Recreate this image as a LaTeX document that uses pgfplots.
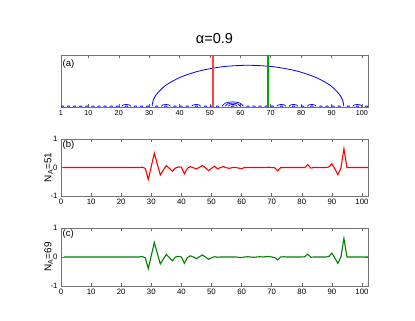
\documentclass[border=0pt]{standalone}
\usepackage{fontspec}
\setmainfont{Liberation Sans}
\usepackage{pgfplots}
\pgfplotsset{compat=1.18}

\definecolor{mred}{RGB}{255,0,0}
\definecolor{mgreen}{RGB}{0,128,0}
\definecolor{mblue}{RGB}{0,0,255}

\pgfplotsset{
  panel/.style={
    scale only axis,
    anchor=south west,
    width=307pt,
    axis line style={black!55, line width=0.7pt},
    tick style={black!60, line width=0.5pt},
    major tick length=3pt,
    tick label style={font=\fontsize{7.8}{9}\selectfont},
    /pgf/number format/assume math mode=true,
  },
}
\tikzset{lbl/.style={anchor=north west, inner sep=1.5pt, font=\fontsize{9.5}{11}\selectfont}}

\begin{document}
\begin{tikzpicture}
\fill[white] (0pt,0pt) rectangle (415pt,321pt);

% (a) arc diagram
\begin{axis}[panel,
  at={(61pt,214pt)}, height=52pt,
  xmin=1, xmax=102, ymin=-0.012, ymax=1,
  xtick={1,10,20,30,40,50,60,70,80,90,100},
  ytick=\empty,
  tick label style={font=\fontsize{7.2}{9}\selectfont},
  title={α=0.9},
  title style={font=\fontsize{14.5}{16}\selectfont, yshift=2pt},
]
\addplot[mblue, line width=0.9pt, unbounded coords=jump] coordinates {
 (1,0)(1.5,0.008)(2,0)(2,nan) (3,0)(3.5,0.008)(4,0)(4,nan)
 (5,0)(5.5,0.008)(6,0)(6,nan) (7,0)(7.5,0.008)(8,0)(8,nan)
 (9,0)(9.5,0.008)(10,0)(10,nan) (11,0)(11.5,0.008)(12,0)(12,nan)
 (13,0)(13.5,0.008)(14,0)(14,nan) (15,0)(15.5,0.008)(16,0)(16,nan)
 (17,0)(17.5,0.008)(18,0)(18,nan) (19,0)(19.5,0.008)(20,0)(20,nan)
 (22,0)(22.5,0.008)(23,0)(23,nan) (25,0)(25.5,0.008)(26,0)(26,nan)
 (27,0)(27.5,0.008)(28,0)(28,nan) (29,0)(29.5,0.008)(30,0)(30,nan)
 (32,0)(32.5,0.008)(33,0)(33,nan) (35,0)(35.5,0.008)(36,0)(36,nan)
 (38,0)(38.5,0.008)(39,0)(39,nan) (40,0)(40.5,0.008)(41,0)(41,nan)
 (42,0)(42.5,0.008)(43,0)(43,nan) (45,0)(45.5,0.008)(46,0)(46,nan)
 (48,0)(48.5,0.008)(49,0)(49,nan) (50,0)(50.5,0.008)(51,0)(51,nan)
 (52,0)(52.5,0.008)(53,0)(53,nan) (57,0)(57.5,0.008)(58,0)(58,nan)
 (62,0)(62.5,0.008)(63,0)(63,nan) (64,0)(64.5,0.008)(65,0)(65,nan)
 (66,0)(66.5,0.008)(67,0)(67,nan) (68,0)(68.5,0.008)(69,0)(69,nan)
 (70,0)(70.5,0.008)(71,0)(71,nan) (73,0)(73.5,0.008)(74,0)(74,nan)
 (77,0)(77.5,0.008)(78,0)(78,nan) (80,0)(80.5,0.008)(81,0)(81,nan)
 (83,0)(83.5,0.008)(84,0)(84,nan) (86,0)(86.5,0.008)(87,0)(87,nan)
 (88,0)(88.5,0.008)(89,0)(89,nan) (90,0)(90.5,0.008)(91,0)(91,nan)
 (92,0)(92.5,0.008)(93,0)(93,nan) (95,0)(95.5,0.008)(96,0)(96,nan)
 (98,0)(98.5,0.008)(99,0)(99,nan) (101,0)(101.5,0.008)(102,0)
};
\addplot[mblue, line width=0.7pt, smooth] coordinates {(21,0)(21.44,0.027)(22.5,0.038)(23.56,0.027)(24,0)};
\addplot[mblue, line width=0.7pt, smooth] coordinates {(34,0)(34.44,0.027)(35.5,0.038)(36.56,0.027)(37,0)};
\addplot[mblue, line width=0.7pt, smooth] coordinates {(44,0)(44.44,0.027)(45.5,0.038)(46.56,0.027)(47,0)};
\addplot[mblue, line width=0.7pt, smooth] coordinates {(56,0)(56.44,0.027)(57.5,0.038)(58.56,0.027)(59,0)};
\addplot[mblue, line width=0.7pt, smooth] coordinates {(55,0)(55.73,0.045)(57.5,0.064)(59.27,0.045)(60,0)};
\addplot[mblue, line width=0.7pt, smooth] coordinates {(54,0)(55.03,0.063)(57.5,0.089)(59.97,0.063)(61,0)};
\addplot[mblue, line width=0.7pt, smooth] coordinates {(72,0)(72.44,0.027)(73.5,0.038)(74.56,0.027)(75,0)};
\addplot[mblue, line width=0.7pt, smooth] coordinates {(76,0)(76.44,0.027)(77.5,0.038)(78.56,0.027)(79,0)};
\addplot[mblue, line width=0.7pt, smooth] coordinates {(82,0)(82.44,0.027)(83.5,0.038)(84.56,0.027)(85,0)};
\addplot[mblue, line width=0.7pt, smooth] coordinates {(97,0)(97.44,0.027)(98.5,0.038)(99.56,0.027)(100,0)};
% big arc 31-94
\addplot[mblue, line width=0.8pt, smooth] coordinates {
 (31,0)(31.12,0.070)(32.07,0.207)(35.22,0.400)(40.23,0.566)(46.75,0.693)
 (54.35,0.773)(62.5,0.800)(70.65,0.773)(78.25,0.693)(84.77,0.566)
 (89.78,0.400)(92.93,0.207)(93.88,0.070)(94,0)
};
\addplot[red!75!white, line width=1.2pt] coordinates {(51,-0.012)(51,1)};
\addplot[green!65!black, line width=1.7pt] coordinates {(69,-0.012)(69,1)};
\node[lbl, yshift=-3pt] at (rel axis cs:0,1) {(a)};
\end{axis}

% (b)
\begin{axis}[panel,
  at={(61pt,125pt)}, height=57pt,
  xmin=0, xmax=102, ymin=-1, ymax=1,
  xtick={0,10,20,30,40,50,60,70,80,90,100},
  ytick={-1,0,1},
  ylabel={N\textsubscript{A}=51},
  ylabel style={at={(axis description cs:-0.04,0.5)}, anchor=center, font=\fontsize{10}{12}\selectfont},
]
\addplot[mred, line width=1.1pt] table {
x y
1 0
2 0
3 0
4 0
5 0
6 0
7 0
8 0
9 0
10 0
11 0
12 0
13 0
14 0
15 0
16 0
17 0
18 0
19 0
20 0
21 0
22 0
23 0
24 0
25 0
26 0
27 0.01
28 -0.03
29 -0.42
30 0.04
31 0.50
32 0.12
33 -0.26
34 -0.09
35 0.07
36 -0.03
37 -0.13
38 -0.02
39 0.02
40 0.01
41 -0.22
42 -0.03
43 0.03
44 -0.01
45 -0.05
46 0.01
47 0.07
48 -0.01
49 -0.11
50 -0.03
51 0.05
52 -0.05
53 0.00
54 0.03
55 -0.01
56 -0.03
57 0.00
58 0.00
59 -0.02
60 -0.04
61 0.00
62 0.00
63 0.00
64 0.00
65 0.00
66 0.00
67 0.00
68 0.00
69 0.01
70 0.00
71 -0.01
72 -0.12
73 0.00
74 0.00
75 0.00
76 0.00
77 0.00
78 0.00
79 0.00
80 0.00
81 0.00
82 0.10
83 -0.02
84 0
85 0
86 0
87 0
88 0
89 0.02
90 0.13
91 -0.05
92 -0.25
93 -0.02
94 0.66
95 0
96 0
97 0
98 0
99 0
100 0
101 0
102 0
};
\node[lbl] at (rel axis cs:0,1) {(b)};
\end{axis}

% (c)
\begin{axis}[panel,
  at={(61pt,35pt)}, height=58pt,
  xmin=0, xmax=102, ymin=-1, ymax=1,
  xtick={0,10,20,30,40,50,60,70,80,90,100},
  ytick={-1,0,1},
  ylabel={N\textsubscript{A}=69},
  ylabel style={at={(axis description cs:-0.04,0.5)}, anchor=center, font=\fontsize{10}{12}\selectfont},
]
\addplot[mgreen, line width=1.1pt] table {
x y
1 0
2 0
3 0
4 0
5 0
6 0
7 0
8 0
9 0
10 0
11 0
12 0
13 0
14 0
15 0
16 0
17 0
18 0
19 0
20 0
21 0
22 0
23 0
24 0
25 0
26 0
27 0.02
28 -0.03
29 -0.40
30 0.05
31 0.50
32 0.13
33 -0.24
34 -0.07
35 0.09
36 -0.02
37 -0.13
38 0.00
39 0.02
40 0.00
41 -0.22
42 -0.02
43 0.04
44 0.00
45 -0.06
46 0.01
47 0.07
48 0.00
49 -0.08
50 -0.03
51 0.01
52 -0.01
53 0.00
54 0.00
55 0.00
56 0.00
57 0.00
58 0.00
59 -0.01
60 -0.02
61 0.00
62 0.01
63 0.00
64 -0.01
65 0.00
66 0.01
67 0.00
68 0.01
69 0.02
70 0.00
71 -0.02
72 -0.10
73 0.00
74 0.01
75 0.00
76 0.00
77 0.00
78 0.00
79 0.00
80 0.00
81 0.01
82 0.10
83 -0.01
84 0
85 0
86 0
87 0
88 0
89 0.02
90 0.13
91 -0.04
92 -0.22
93 0.00
94 0.64
95 0
96 0
97 0
98 0
99 0
100 0
101 0
102 0
};
\node[lbl] at (rel axis cs:0,1) {(c)};
\end{axis}
\end{tikzpicture}
\end{document}
